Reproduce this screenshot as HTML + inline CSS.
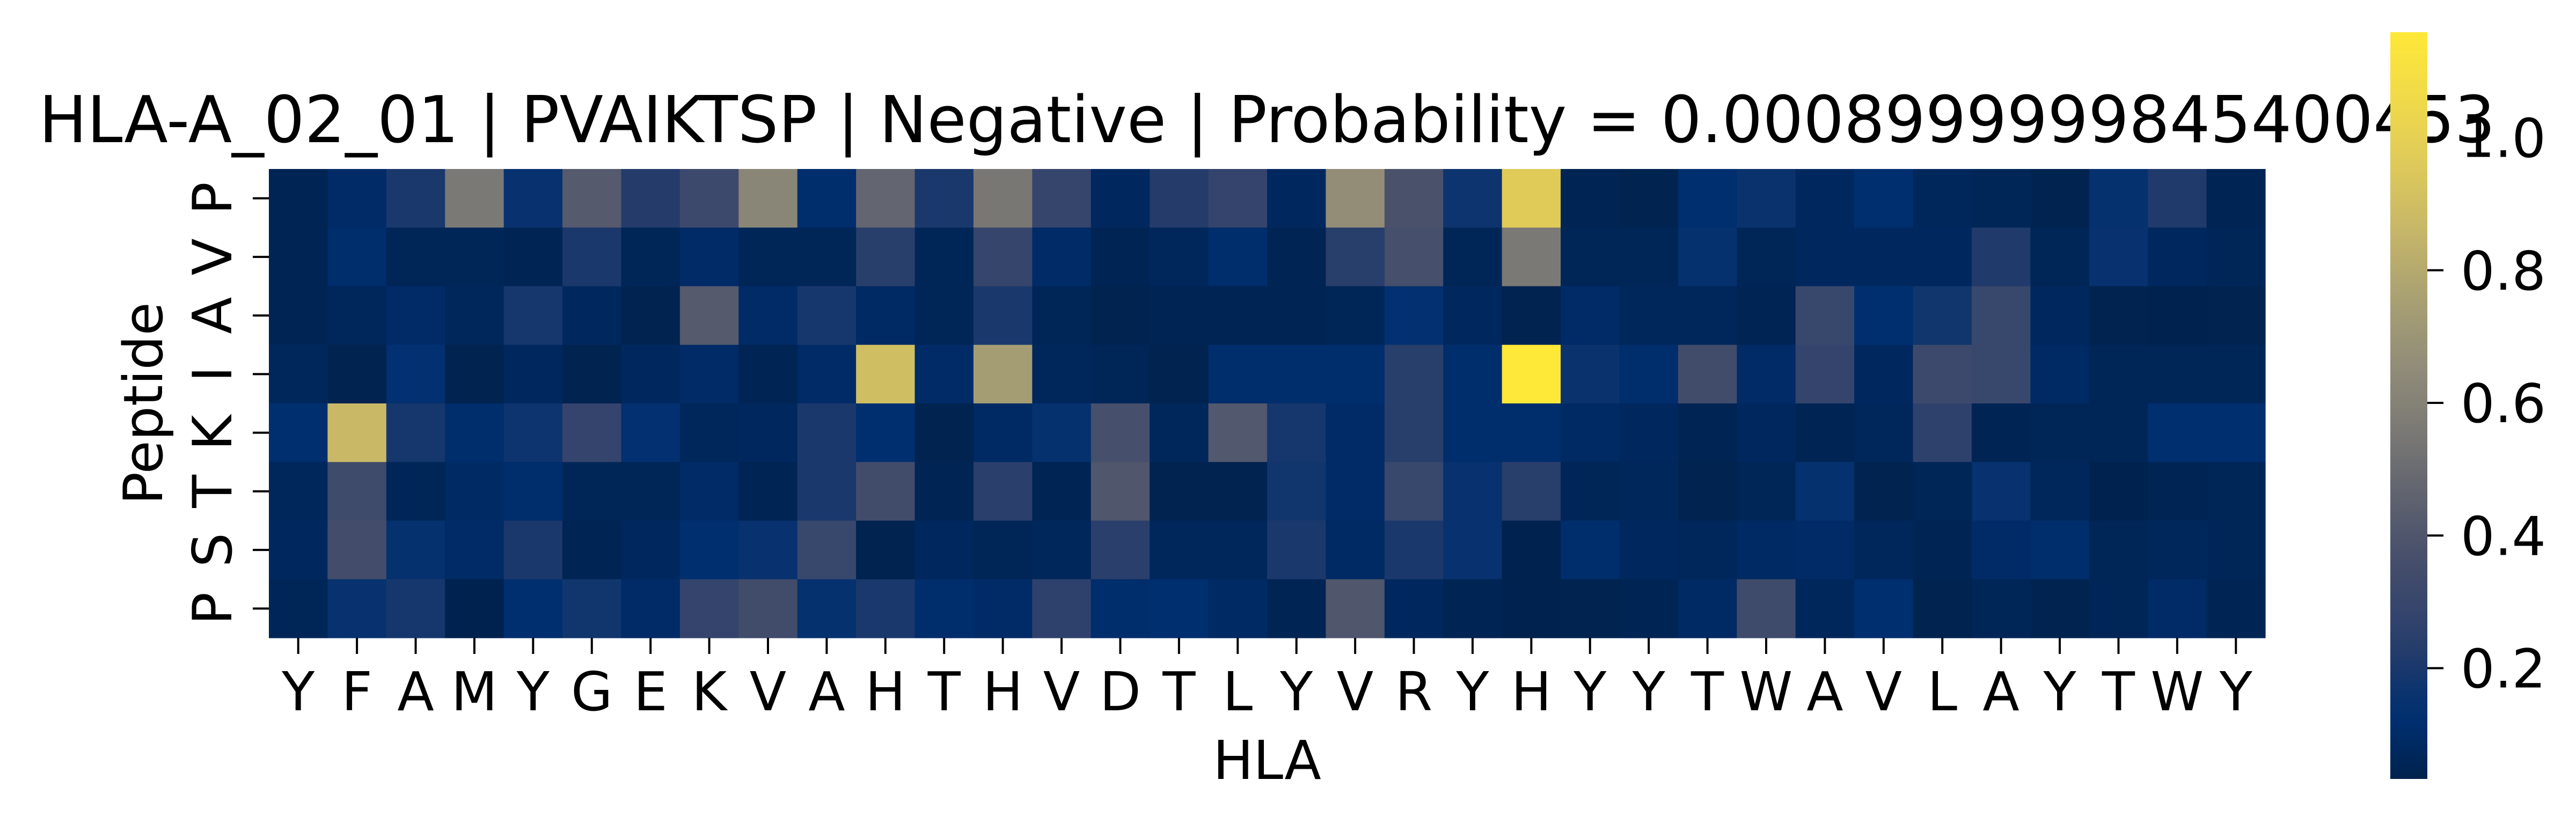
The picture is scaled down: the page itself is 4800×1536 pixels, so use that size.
<!DOCTYPE html>
<html><head><meta charset="utf-8"><style>
html,body{margin:0;padding:0;background:#fff;}
svg{display:block;font-family:"DejaVu Sans","Liberation Sans",sans-serif;}
</style></head><body>
<svg id="chart" width="4800" height="1536" viewBox="0 0 4800 1536" xmlns="http://www.w3.org/2000/svg">
<text x="2361" y="265" font-size="120" text-anchor="middle" textLength="4577" lengthAdjust="spacingAndGlyphs">HLA-A_02_01 | PVAIKTSP | Negative | Probability = 0.0008999999845400453</text>
<g id="cells"></g>
<g id="xaxis"></g>
<g id="yaxis"></g>
<text x="2361" y="1452" font-size="100" text-anchor="middle">HLA</text>
<text transform="translate(302,752) rotate(-90)" font-size="101" text-anchor="middle">Peptide</text>
<g id="cbar"></g>
</svg>
<script>
const hlaLabels = ["Y","F","A","M","Y","G","E","K","V","A","H","T","H","V","D","T","L","Y","V","R","Y","H","Y","Y","T","W","A","V","L","A","Y","T","W","Y"];
const peptideLabels = ["P","V","A","I","K","T","S","P"];
const row0 = [0.05,0.10,0.20,0.56,0.15,0.42,0.23,0.32,0.62,0.11,0.47,0.20, 0.55,0.29,0.08,0.23,0.28,0.08,0.66,0.38,0.17,0.97,0.05, 0.04,0.12,0.16,0.08,0.12,0.07,0.06,0.04,0.14,0.21,0.05];
const row1 = [0.05,0.11,0.06,0.06,0.05,0.20,0.06,0.10,0.06,0.06,0.24,0.06, 0.29,0.10,0.05,0.07,0.11,0.05,0.24,0.36,0.06,0.56,0.06, 0.06,0.14,0.06,0.08,0.08,0.08,0.21,0.06,0.15,0.08,0.06];
const row2 = [0.05,0.07,0.10,0.07,0.19,0.08,0.04,0.42,0.10,0.19,0.09,0.06, 0.20,0.06,0.04,0.05,0.05,0.05,0.06,0.13,0.08,0.04,0.10, 0.07,0.07,0.05,0.30,0.12,0.18,0.30,0.08,0.04,0.03,0.04];
const row3 = [0.07,0.04,0.13,0.04,0.08,0.04,0.08,0.10,0.05,0.10,0.90,0.10, 0.74,0.07,0.06,0.04,0.11,0.11,0.11,0.24,0.11,1.159,0.16, 0.11,0.34,0.10,0.28,0.08,0.32,0.30,0.09,0.06,0.06,0.06];
const row4 = [0.12,0.87,0.19,0.11,0.17,0.28,0.13,0.07,0.08,0.20,0.12,0.04, 0.09,0.14,0.36,0.07,0.41,0.19,0.10,0.24,0.11,0.11,0.09, 0.08,0.05,0.08,0.05,0.07,0.26,0.05,0.06,0.06,0.12,0.12];
const row5 = [0.07,0.33,0.06,0.09,0.11,0.06,0.06,0.10,0.05,0.20,0.34,0.05, 0.25,0.05,0.40,0.04,0.04,0.18,0.10,0.30,0.15,0.24,0.06, 0.07,0.04,0.06,0.14,0.04,0.06,0.15,0.07,0.03,0.05,0.06];
const row6 = [0.08,0.35,0.14,0.10,0.20,0.05,0.08,0.12,0.15,0.30,0.04,0.08, 0.06,0.07,0.25,0.07,0.07,0.20,0.09,0.20,0.15,0.03,0.11, 0.08,0.07,0.09,0.10,0.07,0.05,0.10,0.11,0.06,0.07,0.06];
const row7 = [0.06,0.15,0.19,0.03,0.12,0.18,0.10,0.28,0.34,0.14,0.20,0.11, 0.10,0.26,0.11,0.12,0.09,0.05,0.40,0.08,0.05,0.03,0.04, 0.05,0.09,0.33,0.07,0.12,0.04,0.06,0.04,0.06,0.10,0.05];
const cbarTicks = [0.2,0.4,0.6,0.8,1.0];
const vmin = 0.033, vmax = 1.159;
const rows = [row0,row1,row2,row3,row4,row5,row6,row7];

const NS = "http://www.w3.org/2000/svg";
const X0 = 501, Y0 = 315, W = 3720, H = 874;
const cw = W / hlaLabels.length, ch = H / peptideLabels.length;
function xPos(i){ return X0 + i*cw; }
function yPos(j){ return Y0 + j*ch; }
const CB = {x:4454, w:69, top:60, bot:1452};
function cbY(v){ return CB.bot - (v - vmin)/(vmax - vmin)*(CB.bot - CB.top); }

const stops = [[0,[0,34,78]],[0.04,[0,40,94]],[0.08,[0,47,112]],[0.12,[12,52,110]],[0.16,[32,58,107]],[0.22,[52,68,108]],[0.30,[72,80,107]],[0.38,[96,99,111]],[0.47,[124,122,117]],[0.55,[145,140,120]],[0.63,[165,157,116]],[0.74,[200,184,104]],[0.86,[231,209,84]],[1,[254,232,56]]];
function cmap(v){
  let t = Math.max(0, Math.min(1, (v - vmin)/(vmax - vmin)));
  for (let k=1;k<stops.length;k++){
    if (t <= stops[k][0]){
      const a=stops[k-1], b=stops[k], f=(t-a[0])/(b[0]-a[0]);
      const c=a[1].map((x,i)=>Math.round(x+(b[1][i]-x)*f));
      return "rgb("+c.join(",")+")";
    }
  }
  return "rgb(254,232,56)";
}
function mk(tag, attrs){ const e=document.createElementNS(NS,tag); for(const k in attrs) e.setAttribute(k,attrs[k]); return e; }

const cells = document.getElementById("cells");
rows.forEach((r,j)=>{
  r.forEach((v,i)=>{
    const rect = mk("rect",{x:xPos(i),y:yPos(j),width:cw+0.6,height:ch+0.6,fill:cmap(v)});
    
    
    cells.appendChild(rect);
  });
});

const xa = document.getElementById("xaxis");
hlaLabels.forEach((l,i)=>{
  const cx = xPos(i)+cw/2;
  const tk = mk("line",{x1:cx,x2:cx,y1:Y0+H,y2:Y0+H+30,stroke:"#000","stroke-width":4});
  
  
  xa.appendChild(tk);
  const t = mk("text",{x:cx,y:1324,"font-size":100,"text-anchor":"middle"});
  
  
  t.textContent = l; xa.appendChild(t);
});
const ya = document.getElementById("yaxis");
peptideLabels.forEach((l,j)=>{
  const cy = yPos(j)+ch/2;
  const tk = mk("line",{x1:X0-30,x2:X0,y1:cy,y2:cy,stroke:"#000","stroke-width":4});
  
  
  ya.appendChild(tk);
  const t = mk("text",{transform:"translate(431,"+cy+") rotate(-90)","font-size":101,"text-anchor":"middle"});
  
  
  t.textContent = l; ya.appendChild(t);
});

const cb = document.getElementById("cbar");
const defs = mk("defs",{});
const grad = mk("linearGradient",{id:"cg",x1:0,y1:1,x2:0,y2:0});
for (let k=0;k<=40;k++){
  const v = vmin + (vmax-vmin)*k/40;
  grad.appendChild(mk("stop",{offset:(k/40),"stop-color":cmap(v)}));
}
defs.appendChild(grad); cb.appendChild(defs);
const bar = mk("rect",{x:CB.x,y:CB.top,width:CB.w,height:CB.bot-CB.top,fill:"url(#cg)"});


cb.appendChild(bar);
cbarTicks.forEach(v=>{
  const y = cbY(v);
  const tk = mk("line",{x1:CB.x+CB.w,x2:CB.x+CB.w+30,y1:y,y2:y,stroke:"#000","stroke-width":4});
  
  
  cb.appendChild(tk);
  const t = mk("text",{x:4585,y:y+36,"font-size":100});
  
  
  t.textContent = v.toFixed(1); cb.appendChild(t);
});
</script>
</body></html>
